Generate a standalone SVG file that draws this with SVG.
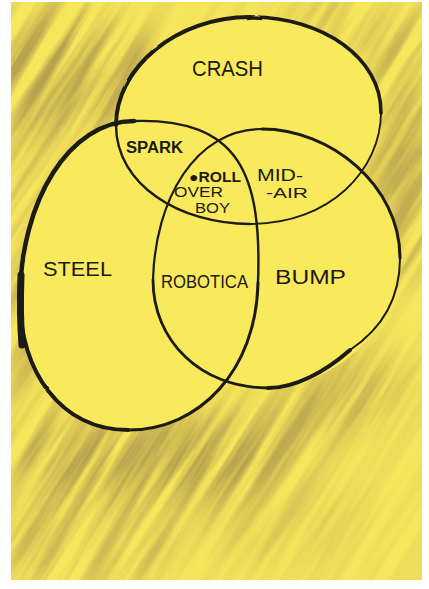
<svg xmlns="http://www.w3.org/2000/svg" width="429" height="589" viewBox="0 0 429 589">
<style>
.ol{fill:none;stroke:#1c1a12;stroke-linecap:round;stroke-linejoin:round}
.lb{font-family:"Liberation Sans","DejaVu Sans",sans-serif;fill:#1c1a12}
</style>
<defs>
<filter id="streak" x="0" y="0" width="100%" height="100%" filterUnits="objectBoundingBox" color-interpolation-filters="sRGB">
<feTurbulence type="fractalNoise" baseFrequency="0.004 0.065" numOctaves="4" seed="11" result="n"/>
<feColorMatrix in="n" type="matrix" values="0 0 0 0 0.60  0 0 0 0 0.51  0 0 0 0 0.28  -2.6 0 0 0 1.8"/>
</filter>
<filter id="blur" x="-50%" y="-50%" width="200%" height="200%"><feGaussianBlur stdDeviation="18"/></filter>
<filter id="rough" x="-5%" y="-5%" width="110%" height="110%">
<feTurbulence type="fractalNoise" baseFrequency="0.03" numOctaves="2" seed="3" result="t"/>
<feDisplacementMap in="SourceGraphic" in2="t" scale="1.6" xChannelSelector="R" yChannelSelector="G"/>
</filter>
<clipPath id="paper"><rect x="11" y="2" width="411" height="578"/></clipPath>
<mask id="dens" maskUnits="userSpaceOnUse" x="0" y="0" width="429" height="589">
<rect x="0" y="0" width="429" height="589" fill="#262626"/>
<g filter="url(#blur)" fill="#fff">
<ellipse cx="70" cy="70" rx="85" ry="65" opacity="0.9"/>
<ellipse cx="30" cy="260" rx="35" ry="150" opacity="0.6"/>
<ellipse cx="405" cy="160" rx="35" ry="130" opacity="0.75"/>
<ellipse cx="360" cy="25" rx="70" ry="30" opacity="0.5"/>
<ellipse cx="150" cy="455" rx="140" ry="45" opacity="1"/>
<ellipse cx="330" cy="400" rx="90" ry="40" opacity="0.75" transform="rotate(-30 330 400)"/>
<ellipse cx="90" cy="540" rx="90" ry="50" opacity="0.6"/>
<ellipse cx="280" cy="520" rx="90" ry="45" opacity="0.3"/>
</g>
</mask>
</defs>

<rect x="0" y="0" width="429" height="589" fill="#ffffff"/>
<rect x="11" y="2" width="411" height="578" fill="#f7e65c"/>

<g clip-path="url(#paper)">
<g mask="url(#dens)" opacity="0.75">
<g transform="rotate(-58 215 295)">
<rect x="-260" y="-260" width="950" height="1110" filter="url(#streak)"/>
</g>
</g>
</g>

<g fill="#f9ea5d">
<path d="M116,125 C116,68 176,17 250,17 C323,17 381,58 381,112 C381,170 330,224 250,224 C180,224 116,185 116,125 Z"/>
<path d="M134,121 C240,118 262,175 258,283 C256,370 200,430 128,430 C60,430 20,370 20,300 C20,200 70,121 134,121 Z"/>
<path d="M262,129 C330,129 400,185 400,258 C400,330 330,388 268,388 C200,388 153,340 153,280 C155,200 195,129 262,129 Z"/>
</g>

<g id="crash">
<g filter="url(#rough)">
<path class="ol" stroke-width="4" d="M116,125 C116,68 176,17 250,17"/>
<path class="ol" stroke-width="3.5" d="M250,17 C323,17 381,58 381,112"/>
<path class="ol" stroke-width="1.8" stroke="#5e5434" d="M381,112 C381,170 330,224 250,224"/>
<path class="ol" stroke-width="2.4" d="M250,224 C180,224 116,185 116,125"/>
</g>
<text class="lb" x="192" y="76" font-size="22" textLength="71" lengthAdjust="spacingAndGlyphs">CRASH</text>
</g>

<g id="steel">
<g filter="url(#rough)">
<path class="ol" stroke-width="2.4" d="M134,121 C240,118 262,175 258,283"/>
<path class="ol" stroke-width="3" d="M258,283 C256,370 200,430 128,430"/>
<path class="ol" stroke-width="4" d="M128,430 C60,430 20,370 20,300"/>
<path class="ol" stroke-width="4.5" d="M20,300 C20,200 70,121 134,121"/>
<path class="ol" stroke-width="7" d="M22,345 C20,320 20,300 21,275"/>
</g>
<text class="lb" x="43" y="276" font-size="21" textLength="69" lengthAdjust="spacingAndGlyphs">STEEL</text>
</g>

<g id="bump">
<g filter="url(#rough)">
<path class="ol" stroke-width="3" d="M262,129 C330,129 400,185 400,258"/>
<path class="ol" stroke-width="2" stroke="#4e4630" d="M400,258 C400,300 380,330 350,350"/>
<path class="ol" stroke-width="4" d="M350,350 C325,372 295,388 268,388"/>
<path class="ol" stroke-width="2.8" d="M268,388 C200,388 153,340 153,280"/>
<path class="ol" stroke-width="2.2" stroke="#3a3320" d="M153,280 C155,200 195,129 262,129"/>
</g>
<text class="lb" x="275" y="284" font-size="20" textLength="71" lengthAdjust="spacingAndGlyphs">BUMP</text>
</g>

<g id="spark">
<text class="lb" x="126" y="153" font-size="16" font-weight="bold" textLength="57" lengthAdjust="spacingAndGlyphs">SPARK</text>
</g>

<g id="mid-air">
<text class="lb" x="257" y="181" font-size="17" textLength="46" lengthAdjust="spacingAndGlyphs">MID-</text>
<text class="lb" x="266" y="198" font-size="15" textLength="42" lengthAdjust="spacingAndGlyphs">-AIR</text>
</g>

<g id="rollover">
<text class="lb" x="189" y="182" font-size="14" font-weight="bold" textLength="52" lengthAdjust="spacingAndGlyphs">●ROLL</text>
<text class="lb" x="174" y="197" font-size="14" textLength="49" lengthAdjust="spacingAndGlyphs">OVER</text>
<text class="lb" x="195" y="213" font-size="14" textLength="35" lengthAdjust="spacingAndGlyphs">BOY</text>
</g>

<g id="robotica">
<text class="lb" x="161" y="288" font-size="19" textLength="87" lengthAdjust="spacingAndGlyphs">ROBOTICA</text>
</g>
</svg>
